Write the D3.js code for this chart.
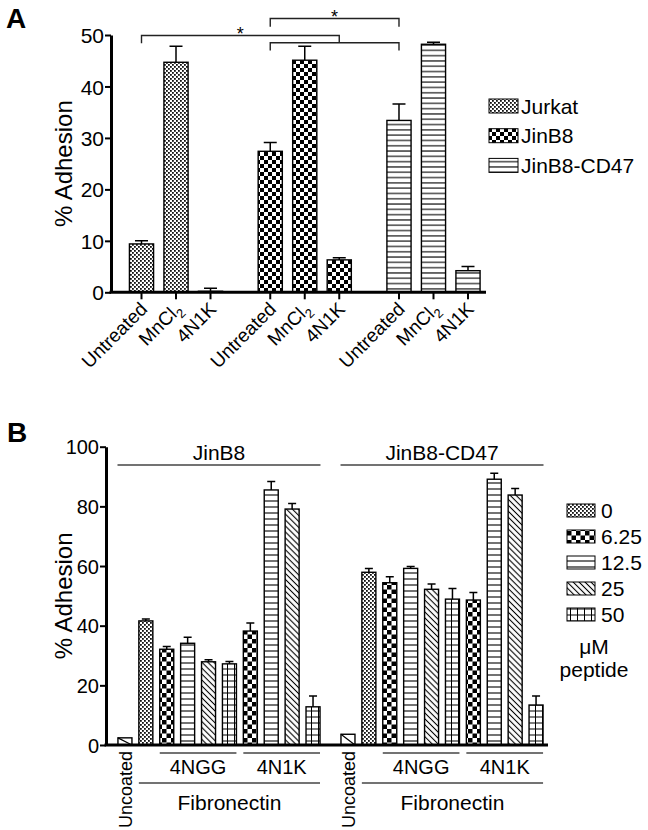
<!DOCTYPE html>
<html><head><meta charset="utf-8">
<script src="https://cdn.jsdelivr.net/npm/d3@7"></script>
<style>
body{margin:0;background:#fff}
svg{display:block}
text{font-family:"Liberation Sans",Arial,Helvetica,sans-serif;fill:#000}
</style>
</head><body>
<svg id="c" width="648" height="830"></svg>
<script>
// ---------- Panel A data ----------
const seriesA = ["Jurkat", "JinB8", "JinB8-CD47"];
const conditionsA = ["Untreated", "MnCl2", "4N1K"];
const jurkatMean = [9.4, 44.7, 0.2];
const jurkatErr  = [0.6, 3.1, 0.6];
const jinb8Mean  = [27.4, 45.1, 6.3];
const jinb8Err   = [1.7, 2.7, 0.4];
const cd47Mean   = [33.4, 48.2, 4.2];
const cd47Err    = [3.2, 0.4, 0.8];
const ticksA = [0, 10, 20, 30, 40, 50];
// significance brackets: [series, condition] endpoints, line level, leg ends (data units)
const bracketsA = [
  {a: ["Jurkat", "Untreated"], b: ["JinB8", "4N1K"], y: 49.9, legA: 48.4, legB: 48.5, star: true},
  {a: ["JinB8", "Untreated"], b: ["JinB8-CD47", "Untreated"], y: 48.5, legA: 47.0, legB: 47.0, star: false},
  {a: ["JinB8", "Untreated"], b: ["JinB8-CD47", "Untreated"], y: 53.2, legA: 51.6, legB: 51.6, star: true}
];

// ---------- Panel B data ----------
const groupsB = ["JinB8", "JinB8-CD47"];
const conditionsB = ["Uncoated", "Fn 0", "4NGG 6.25", "4NGG 12.5", "4NGG 25", "4NGG 50",
                     "4N1K 6.25", "4N1K 12.5", "4N1K 25", "4N1K 50"];
const doseB = ["uncoated", "0", "6.25", "12.5", "25", "50", "6.25", "12.5", "25", "50"];
const jinb8MeanB = [2.4, 41.6, 32.1, 34.1, 27.9, 27.2, 38.2, 85.5, 79.1, 12.8];
const jinb8ErrB  = [0, 0.6, 0.9, 2.0, 0.7, 0.8, 2.7, 2.8, 1.9, 3.6];
const cd47MeanB  = [3.6, 57.9, 54.4, 59.2, 52.2, 48.9, 48.6, 89.1, 83.8, 13.4];
const cd47ErrB   = [0, 1.3, 2.0, 0.6, 1.8, 3.6, 2.5, 2.0, 2.2, 3.0];
const legendB = ["0", "6.25", "12.5", "25", "50"];
const ticksB = [0, 20, 40, 60, 80, 100];

const FONT = '"Liberation Sans",Arial,Helvetica,sans-serif';
const svg = d3.select("#c");
const defs = svg.append("defs");

// ---------- patterns ----------
function makePatterns(prefix, k) {
  // fine checker
  let p = defs.append("pattern").attr("id", prefix + "fine").attr("patternUnits", "userSpaceOnUse")
    .attr("width", 4).attr("height", 4);
  p.append("rect").attr("width", 4).attr("height", 4).attr("fill", "#fff");
  p.append("rect").attr("width", 1.8).attr("height", 1.8).attr("fill", "#111");
  p.append("rect").attr("x", 2).attr("y", 2).attr("width", 1.8).attr("height", 1.8).attr("fill", "#111");
  // coarse checker
  const c = k.cell;
  p = defs.append("pattern").attr("id", prefix + "check").attr("patternUnits", "userSpaceOnUse")
    .attr("width", 2 * c).attr("height", 2 * c);
  p.append("rect").attr("width", 2 * c).attr("height", 2 * c).attr("fill", "#fff");
  p.append("rect").attr("width", c).attr("height", c).attr("fill", "#000");
  p.append("rect").attr("x", c).attr("y", c).attr("width", c).attr("height", c).attr("fill", "#000");
  // horizontal lines
  const s = k.hsp;
  p = defs.append("pattern").attr("id", prefix + "hline").attr("patternUnits", "userSpaceOnUse")
    .attr("width", 10).attr("height", s);
  p.append("rect").attr("width", 10).attr("height", s).attr("fill", "#fff");
  p.append("line").attr("x1", 0).attr("x2", 10).attr("y1", s / 2).attr("y2", s / 2)
    .attr("stroke", "#000").attr("stroke-width", 1.1);
  // diagonal "\" lines
  const d = 4.2;
  p = defs.append("pattern").attr("id", prefix + "diag").attr("patternUnits", "userSpaceOnUse")
    .attr("width", d).attr("height", d).attr("patternTransform", "rotate(-45)");
  p.append("rect").attr("width", d).attr("height", d).attr("fill", "#fff");
  p.append("line").attr("x1", d / 2).attr("x2", d / 2).attr("y1", 0).attr("y2", d)
    .attr("stroke", "#000").attr("stroke-width", 1.1);
  // grid
  p = defs.append("pattern").attr("id", prefix + "grid").attr("patternUnits", "userSpaceOnUse")
    .attr("width", 7).attr("height", 6);
  p.append("rect").attr("width", 7).attr("height", 6).attr("fill", "#fff");
  p.append("line").attr("x1", 0).attr("x2", 7).attr("y1", 3).attr("y2", 3).attr("stroke", "#000").attr("stroke-width", 1);
  p.append("line").attr("x1", 3.5).attr("x2", 3.5).attr("y1", 0).attr("y2", 6).attr("stroke", "#000").attr("stroke-width", 1);
}
makePatterns("A", {cell: 4, hsp: 5.3});
makePatterns("B", {cell: 4.5, hsp: 6});

const patA = {"Jurkat": "Afine", "JinB8": "Acheck", "JinB8-CD47": "Ahline"};
const patB = {"0": "Bfine", "6.25": "Bcheck", "12.5": "Bhline", "25": "Bdiag", "50": "Bgrid", "uncoated": null};

// ================= PANEL A =================
const meansA = [jurkatMean, jinb8Mean, cd47Mean];
const errsA = [jurkatErr, jinb8Err, cd47Err];
const dataA = [];
seriesA.forEach((s, i) => conditionsA.forEach((c, j) =>
  dataA.push({series: s, cond: c, mean: meansA[i][j], err: errsA[i][j]})));

const axXA = 111, axEndA = 486;
const yA = d3.scaleLinear().domain([0, 50]).range([292.3, 35]);
const x0A = d3.scaleBand().domain(seriesA).range([124.25, 485.25]).paddingInner(0.196);
const x1A = d3.scaleBand().domain(conditionsA).range([0, x0A.bandwidth()]).paddingInner(0.3).paddingOuter(0.15);
const cxA = (s, c) => x0A(s) + x1A(c) + x1A.bandwidth() / 2;

const gA = svg.append("g");
// bars
gA.selectAll("rect.bar").data(dataA).join("rect")
  .attr("x", d => x0A(d.series) + x1A(d.cond))
  .attr("y", d => yA(d.mean))
  .attr("width", x1A.bandwidth())
  .attr("height", d => Math.max(0.8, yA(0) - yA(d.mean)))
  .attr("fill", d => `url(#${patA[d.series]})`)
  .attr("stroke", "#000").attr("stroke-width", 1.4);
// error bars
const capA = 13;
gA.selectAll("path.err").data(dataA.filter(d => d.err > 0)).join("path")
  .attr("d", d => {
    const x = cxA(d.series, d.cond), y1 = yA(d.mean), y2 = yA(d.mean + d.err);
    return `M${x},${y1}V${y2}M${x - capA / 2},${y2}H${x + capA / 2}`;
  })
  .attr("fill", "none").attr("stroke", "#000").attr("stroke-width", 1.5);

// y axis
const yAxisA = gA.append("g").attr("transform", `translate(${axXA},0)`)
  .call(d3.axisLeft(yA).tickValues(ticksA).tickSize(6).tickSizeOuter(0).tickPadding(1));
yAxisA.select(".domain").attr("stroke-width", 3);
yAxisA.selectAll(".tick line").attr("stroke-width", 2);
yAxisA.selectAll(".tick text").attr("font-size", 21).attr("font-family", FONT).attr("dy", "0.36em");
// x axis line
gA.append("line").attr("x1", axXA - 1.5).attr("x2", axEndA).attr("y1", yA(0)).attr("y2", yA(0))
  .attr("stroke", "#000").attr("stroke-width", 3);
// x ticks + labels
gA.selectAll("line.xt").data(dataA).join("line")
  .attr("x1", d => cxA(d.series, d.cond)).attr("x2", d => cxA(d.series, d.cond))
  .attr("y1", yA(0)).attr("y2", yA(0) + 7).attr("stroke", "#000").attr("stroke-width", 2);
const lblA = gA.selectAll("text.xl").data(dataA).join("text")
  .attr("transform", d => `translate(${cxA(d.series, d.cond) + 7},${yA(0) + 18}) rotate(-45)`)
  .attr("text-anchor", "end").attr("font-size", 19);
lblA.each(function(d) {
  const t = d3.select(this);
  if (d.cond === "MnCl2") {
    t.append("tspan").text("MnCl");
    t.append("tspan").text("2").attr("font-size", 13).attr("dy", 5);
  } else t.text(d.cond);
});
// y title
gA.append("text").attr("transform", `translate(72,${(yA(0) + yA(50)) / 2}) rotate(-90)`)
  .attr("text-anchor", "middle").attr("font-size", 24).text("% Adhesion");
// panel letter
svg.append("text").attr("x", 6).attr("y", 28).attr("font-size", 28).attr("font-weight", "bold").text("A");

// brackets
bracketsA.forEach(b => {
  const xa = cxA(b.a[0], b.a[1]), xb = cxA(b.b[0], b.b[1]);
  gA.append("path")
    .attr("d", `M${xa},${yA(b.legA)}V${yA(b.y)}H${xb}V${yA(b.legB)}`)
    .attr("fill", "none").attr("stroke", "#222").attr("stroke-width", 1.4);
  if (b.star) gA.append("text").attr("x", (xa + xb) / 2).attr("y", yA(b.y) + 4)
    .attr("text-anchor", "middle").attr("font-size", 18).text("*");
});

// legend A
const legA = gA.append("g");
seriesA.forEach((s, i) => {
  const cy = 106 + i * 29.7;
  legA.append("rect").attr("x", 489).attr("y", cy - 7).attr("width", 29).attr("height", 14)
    .attr("fill", `url(#${patA[s]})`).attr("stroke", "#000").attr("stroke-width", 1);
  legA.append("text").attr("x", 521).attr("y", cy + 7.5).attr("font-size", 21).text(s);
});

// ================= PANEL B =================
const meansB = [jinb8MeanB, cd47MeanB];
const errsB = [jinb8ErrB, cd47ErrB];
const dataB = [];
groupsB.forEach((g, i) => conditionsB.forEach((c, j) =>
  dataB.push({group: g, cond: c, dose: doseB[j], mean: meansB[i][j], err: errsB[i][j]})));

const axXB = 106, axEndB = 548;
const yB = d3.scaleLinear().domain([0, 100]).range([745, 446.7]);
const x0B = d3.scaleBand().domain(groupsB).range([114.5, 546.5]).paddingInner(0.063);
const x1B = d3.scaleBand().domain(conditionsB).range([0, x0B.bandwidth()]).paddingInner(0.33).paddingOuter(0.165);
const bx = (g, c) => x0B(g) + x1B(c);

const gB = svg.append("g");
gB.selectAll("rect.bar").data(dataB).join("rect")
  .attr("x", d => bx(d.group, d.cond))
  .attr("y", d => yB(d.mean))
  .attr("width", x1B.bandwidth())
  .attr("height", d => yB(0) - yB(d.mean))
  .attr("fill", d => patB[d.dose] ? `url(#${patB[d.dose]})` : "#fff")
  .attr("stroke", "#000").attr("stroke-width", 1.4);
// single diagonal for uncoated bars
gB.selectAll("line.unc").data(dataB.filter(d => d.dose === "uncoated")).join("line")
  .attr("x1", d => bx(d.group, d.cond)).attr("y1", d => yB(d.mean))
  .attr("x2", d => bx(d.group, d.cond) + x1B.bandwidth()).attr("y2", yB(0))
  .attr("stroke", "#000").attr("stroke-width", 1.2);
const capB = 8;
gB.selectAll("path.err").data(dataB.filter(d => d.err > 0)).join("path")
  .attr("d", d => {
    const x = bx(d.group, d.cond) + x1B.bandwidth() / 2, y1 = yB(d.mean), y2 = yB(d.mean + d.err);
    return `M${x},${y1}V${y2}M${x - capB / 2},${y2}H${x + capB / 2}`;
  })
  .attr("fill", "none").attr("stroke", "#000").attr("stroke-width", 1.5);

const yAxisB = gB.append("g").attr("transform", `translate(${axXB},0)`)
  .call(d3.axisLeft(yB).tickValues(ticksB).tickSize(6).tickSizeOuter(0).tickPadding(1));
yAxisB.select(".domain").attr("stroke-width", 3);
yAxisB.selectAll(".tick line").attr("stroke-width", 2);
yAxisB.selectAll(".tick text").attr("font-size", 20).attr("font-family", FONT).attr("dy", "0.36em");
gB.append("line").attr("x1", axXB - 1.5).attr("x2", axEndB).attr("y1", yB(0)).attr("y2", yB(0))
  .attr("stroke", "#000").attr("stroke-width", 3);

gB.append("text").attr("transform", `translate(72,${(yB(0) + yB(100)) / 2}) rotate(-90)`)
  .attr("text-anchor", "middle").attr("font-size", 24).text("% Adhesion");
svg.append("text").attr("x", 7).attr("y", 442).attr("font-size", 28).attr("font-weight", "bold").text("B");

// group headers
groupsB.forEach(g => {
  const x1 = x0B(g) + 3, x2 = x0B(g) + x0B.bandwidth() - 3;
  gB.append("line").attr("x1", x1).attr("x2", x2).attr("y1", 465).attr("y2", 465)
    .attr("stroke", "#444").attr("stroke-width", 1.5);
  gB.append("text").attr("x", (x1 + x2) / 2).attr("y", 460).attr("text-anchor", "middle")
    .attr("font-size", 21).text(g);
  // uncoated label
  const ux = bx(g, "Uncoated") + x1B.bandwidth() / 2;
  gB.append("text").attr("transform", `translate(${ux + 7},751) rotate(-90)`)
    .attr("text-anchor", "end").attr("font-size", 18).text("Uncoated");
  // peptide sub-brackets
  [["4NGG", "4NGG 6.25", "4NGG 50"], ["4N1K", "4N1K 6.25", "4N1K 50"]].forEach(([lab, a, b]) => {
    const xa = bx(g, a), xb = bx(g, b) + x1B.bandwidth();
    gB.append("line").attr("x1", xa).attr("x2", xb).attr("y1", 753).attr("y2", 753)
      .attr("stroke", "#444").attr("stroke-width", 1.3);
    gB.append("text").attr("x", (xa + xb) / 2).attr("y", 774).attr("text-anchor", "middle")
      .attr("font-size", 20).text(lab);
  });
  const fa = bx(g, "Fn 0"), fb = bx(g, "4N1K 50") + x1B.bandwidth();
  gB.append("line").attr("x1", fa).attr("x2", fb).attr("y1", 783).attr("y2", 783)
    .attr("stroke", "#444").attr("stroke-width", 1.3);
  gB.append("text").attr("x", (fa + fb) / 2).attr("y", 810).attr("text-anchor", "middle")
    .attr("font-size", 21).text("Fibronectin");
});

// legend B
legendB.forEach((k, i) => {
  const cy = 510.5 + i * 26;
  gB.append("rect").attr("x", 567).attr("y", cy - 6.5).attr("width", 28).attr("height", 13)
    .attr("fill", `url(#${patB[k]})`).attr("stroke", "#000").attr("stroke-width", 1);
  gB.append("text").attr("x", 601).attr("y", cy + 7.5).attr("font-size", 21).text(k);
});
gB.append("text").attr("x", 594).attr("y", 654).attr("text-anchor", "middle").attr("font-size", 21).text("μM");
gB.append("text").attr("x", 594).attr("y", 677).attr("text-anchor", "middle").attr("font-size", 21).text("peptide");
</script>
</body></html>
